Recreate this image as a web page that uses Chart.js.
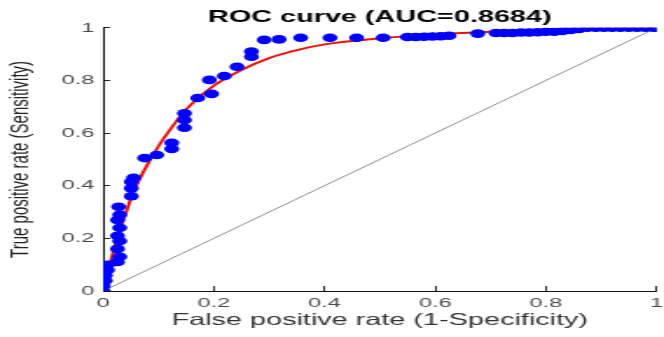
<!DOCTYPE html>
<html>
<head>
<meta charset="utf-8">
<script src="https://cdn.jsdelivr.net/npm/chart.js@4.4.1/dist/chart.umd.min.js"></script>
<style>
html, body { margin: 0; padding: 0; background: #fff; overflow: hidden; }
</style>
</head>
<body>
<!-- the source figure is a horizontally stretched plot, so the canvas is drawn narrow and shown wide -->
<canvas id="roc" width="380" height="337" style="width:664px;height:337px;display:block"></canvas>
<script>
const titleText = "ROC curve (AUC=0.8684)";
const xLabel = "False positive rate (1-Specificity)";
const yLabel = "True positive rate (Sensitivity)";
const tickValues = [0, 0.2, 0.4, 0.6, 0.8, 1];
const tickLabels = ["0", "0.2", "0.4", "0.6", "0.8", "1"];

// empirical ROC points (blue)
const fpr = [0, 0, 0.004, 0.004, 0.008, 0.008,
    0.026, 0.03, 0.026, 0.03, 0.026, 0.03, 0.026, 0.03, 0.028,
    0.051, 0.051, 0.051, 0.055,
    0.075, 0.097, 0.124, 0.124, 0.147, 0.147, 0.147, 0.171, 0.196, 0.192, 0.219, 0.242,
    0.268, 0.268, 0.291, 0.318, 0.357, 0.41, 0.458, 0.506,
    0.55, 0.565, 0.58, 0.595, 0.61, 0.625, 0.677,
    0.71, 0.725, 0.74, 0.755, 0.77, 0.785, 0.8, 0.815, 0.83, 0.845,
    0.86, 0.875, 0.89, 0.905, 0.92, 0.935, 0.95, 0.965, 0.98, 0.995, 1];
const tpr = [0, 0.02, 0.04, 0.06, 0.08, 0.1,
    0.11, 0.13, 0.16, 0.19, 0.21, 0.24, 0.27, 0.29, 0.32,
    0.36, 0.39, 0.415, 0.43,
    0.505, 0.517, 0.54, 0.563, 0.62, 0.65, 0.675, 0.733, 0.749, 0.802, 0.817, 0.852,
    0.89, 0.91, 0.954, 0.956, 0.962, 0.962, 0.962, 0.962,
    0.965, 0.965, 0.966, 0.967, 0.968, 0.97, 0.978,
    0.98, 0.98, 0.98, 0.982, 0.982, 0.983, 0.985, 0.985, 0.988, 0.992,
    0.996, 1, 1, 1, 1, 1, 1, 1, 1, 1, 1];

// fitted smooth ROC (red)
const fitFpr = [0, 0.01, 0.02, 0.03, 0.04, 0.05, 0.06, 0.08, 0.1, 0.12, 0.15, 0.2, 0.25, 0.3, 0.35, 0.4, 0.5, 0.6, 0.7, 0.8, 0.9, 1];
const fitTpr = [0, 0.085, 0.16, 0.23, 0.29, 0.35, 0.4, 0.48, 0.55, 0.61, 0.69, 0.78, 0.84, 0.885, 0.915, 0.937, 0.96, 0.975, 0.985, 0.993, 0.997, 1];

// chance diagonal
const chanceFpr = [0, 1];
const chanceTpr = [0, 1];

const fontFamily = "'Liberation Sans', Arial, sans-serif";

function toXY(xs, ys) {
    return xs.map((x, i) => ({ x: x, y: ys[i] }));
}

function setTicks(scale) {
    scale.ticks = tickValues.map(v => ({ value: v }));
}

function tickText(value) {
    const i = tickValues.indexOf(value);
    return i >= 0 ? tickLabels[i] : "";
}

const ctx = document.getElementById("roc");

new Chart(ctx, {
    type: "scatter",
    data: {
        datasets: [
            {
                data: toXY(fpr, tpr),
                backgroundColor: "#0000ff",
                borderColor: "#0000ff",
                pointRadius: 4.3,
                pointBorderWidth: 0,
                showLine: false
            },
            {
                data: toXY(fitFpr, fitTpr),
                borderColor: "#e8120c",
                borderWidth: 2,
                pointRadius: 0,
                showLine: true,
                cubicInterpolationMode: "monotone"
            },
            {
                data: toXY(chanceFpr, chanceTpr),
                borderColor: "#8c8c8c",
                borderWidth: 1,
                pointRadius: 0,
                showLine: true
            }
        ]
    },
    options: {
        responsive: false,
        animation: false,
        devicePixelRatio: 1,
        events: [],
        layout: { padding: 0 },
        plugins: {
            legend: { display: false },
            tooltip: { enabled: false },
            title: {
                display: true,
                text: titleText,
                fullSize: false,
                color: "#000",
                font: { family: fontFamily, size: 16.5, weight: "bold" },
                padding: { top: 8, bottom: 0 }
            }
        },
        scales: {
            x: {
                type: "linear",
                position: "bottom",
                min: 0,
                max: 1,
                afterBuildTicks: setTicks,
                // keep the last label hanging off the right edge like the source
                afterFit: s => { s.height = 46; s.paddingLeft = 0; s.paddingRight = 0; },
                grid: { display: true, drawOnChartArea: false, drawTicks: true, tickLength: -5, color: "#222" },
                border: { display: true, color: "#111", width: 1 },
                ticks: {
                    padding: 9,
                    color: "#4a4a4a",
                    maxRotation: 0,
                    autoSkip: false,
                    font: { family: fontFamily, size: 13.5 },
                    callback: tickText
                },
                title: {
                    display: true,
                    text: xLabel,
                    color: "#333",
                    font: { family: fontFamily, size: 16.5 },
                    padding: { top: 0, bottom: 7 }
                }
            },
            y: {
                type: "linear",
                min: 0,
                max: 1,
                afterBuildTicks: setTicks,
                afterFit: s => { s.width = 59; },
                grid: { display: true, drawOnChartArea: false, drawTicks: true, tickLength: -4, color: "#222" },
                border: { display: true, color: "#111", width: 1 },
                ticks: {
                    padding: 9,
                    color: "#4a4a4a",
                    font: { family: fontFamily, size: 13.5 },
                    callback: tickText
                },
                title: {
                    display: true,
                    text: yLabel,
                    color: "#222",
                    font: { family: fontFamily, size: 15 },
                    padding: { top: 3, bottom: 0 }
                }
            }
        }
    }
});
</script>
</body>
</html>
